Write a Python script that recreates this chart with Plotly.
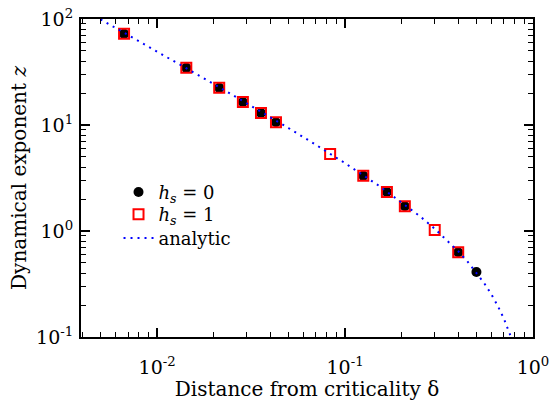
import plotly.graph_objects as go

# Data
delta_h0 = [0.00667, 0.0143, 0.0214, 0.0286, 0.0357, 0.0429, 0.125, 0.167, 0.208, 0.40, 0.50]
z_h0 = [72.4, 34.6, 22.4, 16.5, 13.0, 10.6, 3.32, 2.33, 1.71, 0.63, 0.41]

delta_h1 = [0.00667, 0.0143, 0.0214, 0.0286, 0.0357, 0.0429, 0.0833, 0.125, 0.167, 0.208, 0.30, 0.40]
z_h1 = [72.4, 34.6, 22.4, 16.5, 13.0, 10.6, 5.32, 3.32, 2.33, 1.71, 1.02, 0.63]

delta_an = [0.005, 0.007, 0.01, 0.015, 0.02, 0.03, 0.04, 0.05, 0.07, 0.1, 0.15, 0.2,
            0.25, 0.3, 0.35, 0.4, 0.45, 0.5, 0.55, 0.6, 0.65, 0.7, 0.75, 0.77]
z_an = [99.3, 70.8, 49.3, 32.7, 24.4, 16.0, 11.9, 9.36, 6.50, 4.36, 2.70, 1.87,
        1.38, 1.05, 0.816, 0.644, 0.511, 0.406, 0.322, 0.253, 0.196, 0.149, 0.110, 0.096]

x_tickvals = [0.01, 0.1, 1]
x_ticktext = ["10<sup>-2</sup>", "10<sup>-1</sup>", "10<sup>0</sup>"]
y_tickvals = [0.1, 1, 10, 100]
y_ticktext = ["10<sup>-1</sup>", "10<sup>0</sup>", "10<sup>1</sup>", "10<sup>2</sup>"]

FONT = "DejaVu Serif"

fig = go.Figure()
fig.add_trace(go.Scatter(
    x=delta_h0, y=z_h0, mode="markers", name="<i>h<sub>s</sub></i> = 0",
    marker=dict(symbol="circle", size=10, color="black", line=dict(width=0)),
    legend="legend",
))
fig.add_trace(go.Scatter(
    x=delta_h1, y=z_h1, mode="markers", name="<i>h<sub>s</sub></i> = 1",
    marker=dict(symbol="square-open", size=10, color="#ff0000", line=dict(width=2, color="#ff0000")),
    legend="legend2",
))
fig.add_trace(go.Scatter(
    x=delta_an, y=z_an, mode="lines", name="analytic",
    line=dict(color="#0000ff", width=2, dash="2px,5px"),
    legend="legend3",
))

minor_x = [v * 10 ** e for e in (-3, -2, -1) for v in range(2, 10)]
minor_y = [v * 10 ** e for e in (-1, 0, 1) for v in range(2, 10)]

axis_common = dict(
    type="log", showgrid=False, zeroline=False, showline=True, linecolor="black",
    linewidth=2, mirror="ticks", ticks="inside", ticklen=9, tickwidth=1.5,
    tickcolor="black", tickfont=dict(family=FONT, size=19, color="black"),
    automargin=False, ticklabeloverflow="allow",
)

fig.update_xaxes(
    **axis_common,
    range=[-2.405, 0],
    tickmode="array", tickvals=x_tickvals, ticktext=x_ticktext,
    ticklabelstandoff=12,
    minor=dict(ticks="inside", ticklen=5, tickwidth=1.2, tickcolor="black",
               tickmode="array", tickvals=minor_x, showgrid=False),
    title=dict(text="Distance from criticality δ", font=dict(family=FONT, size=20, color="black"), standoff=2),
)
fig.update_yaxes(
    **axis_common,
    range=[-1, 2],
    tickmode="array", tickvals=y_tickvals, ticktext=y_ticktext,
    ticklabelstandoff=2,
    minor=dict(ticks="inside", ticklen=5, tickwidth=1.2, tickcolor="black",
               tickmode="array", tickvals=minor_y, showgrid=False),
    title=dict(text="Dynamical exponent <i>z</i>", font=dict(family=FONT, size=20, color="black"), standoff=4),
)

leg = dict(xanchor="left", yanchor="middle", bgcolor="rgba(0,0,0,0)",
           font=dict(family=FONT, size=18, color="black"), itemwidth=30)

fig.update_layout(
    width=549, height=401,
    margin=dict(l=81, r=16, t=19, b=64, autoexpand=False),
    paper_bgcolor="white", plot_bgcolor="white",
    font=dict(family=FONT, color="black"),
    legend=dict(x=0.083, y=0.455, **leg),
    legend2=dict(x=0.083, y=0.385, **leg),
    legend3=dict(x=0.083, y=0.31, **leg),
    showlegend=True,
)

fig.write_html("out.html")
